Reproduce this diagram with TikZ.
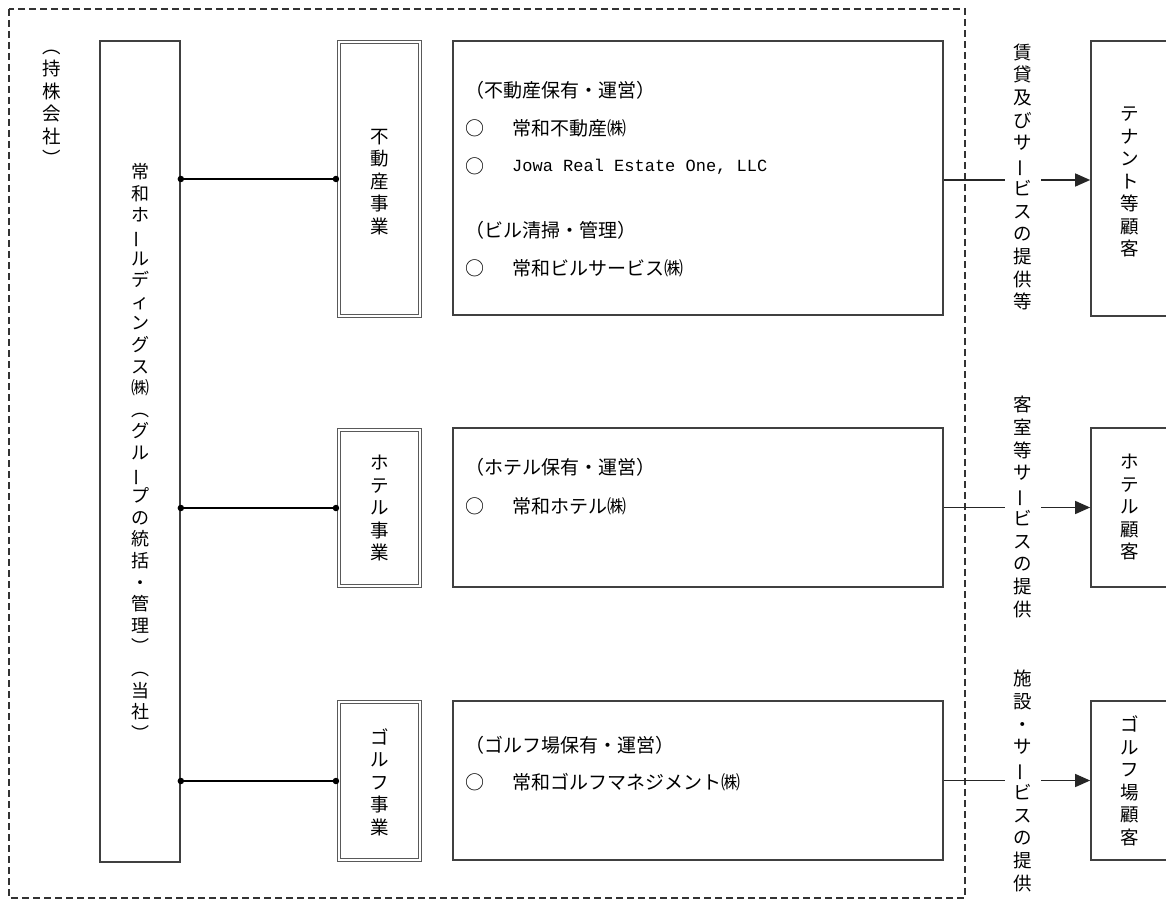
\documentclass[tikz,border=0pt]{standalone}
\usepackage{fontspec}
\setmainfont{Noto Sans CJK JP}
\newfontfamily\monofont{Liberation Mono}
\usetikzlibrary{arrows.meta}
\newcommand{\vbar}{\rotatebox[origin=c]{90}{ー}}
\tikzset{
  box/.style={draw=black!75, line width=1.7pt, inner sep=0pt},
  dbox/.style={draw=black!65, line width=1.1pt, double=white, double distance=2.4pt, inner sep=0pt},
  vtext/.style={align=center, font=\fontsize{18.5}{22.5}\selectfont, inner sep=0pt},
  htext/.style={anchor=west, font=\fontsize{19}{22}\selectfont, inner sep=0pt},
  monotext/.style={anchor=west, font=\monofont\fontsize{17}{22}\selectfont, inner sep=0pt},
  conn/.style={line width=2.2pt, black},
  arr/.style={line width=1.4pt, black!85, -{Triangle[length=15pt,width=13pt]}},
  enddot/.style={circle, fill=black, inner sep=0pt, minimum size=6.5pt},
  frame/.style={draw=black!80, line width=1.2pt, dash pattern=on 7pt off 4pt},
  label/.style={vtext, fill=white, inner xsep=9pt, inner ysep=0pt},
}
\begin{document}
\begin{tikzpicture}[x=1pt,y=-1pt]
\useasboundingbox (0,0) rectangle (1166,901);
\clip (0,0) rectangle (1166,901);
\fill[white] (0,0) rectangle (1166,901);

% dashed group frame
\draw[frame] (9,9) rectangle (965,898);

% holding company
\node[vtext] (hc) at (52,108) {︵\\持\\株\\会\\社\\︶};
\node[box, minimum width=80pt, minimum height=821pt] (hold) at (140,451.5) {};
\node[vtext, font=\fontsize{18}{21.6}\selectfont] (holdt) at (140,452) {常\\和\\ホ\\\vbar\\ル\\デ\\ィ\\ン\\グ\\ス\\㈱\\︵\\グ\\ル\\\vbar\\プ\\の\\統\\括\\・\\管\\理\\︶\\︵\\当\\社\\︶};

% business segments
\node[dbox, minimum width=81pt, minimum height=274pt] (b1) at (379.5,179) {};
\node[vtext] (b1t) at (380,182) {不\\動\\産\\事\\業};
\node[dbox, minimum width=81pt, minimum height=156pt] (b2) at (379.5,508) {};
\node[vtext] (b2t) at (380,508) {ホ\\テ\\ル\\事\\業};
\node[dbox, minimum width=81pt, minimum height=158pt] (b3) at (379.5,781) {};
\node[vtext] (b3t) at (380,782) {ゴ\\ル\\フ\\事\\業};

% connectors
\foreach \b in {b1,b2,b3}{
  \coordinate (s\b) at (hold.east |- \b.west);
  \coordinate (e\b) at ([xshift=-2.5pt]\b.west);
  \draw[conn] (s\b) -- (e\b);
  \node[enddot] at (s\b) {};
  \node[enddot] at (e\b) {};
}

% companies
\node[box, minimum width=490pt, minimum height=274pt] (c1) at (698,178) {};
\node[htext] (c1a) at (465,90) {（不動産保有・運営）};
\node[htext] (c1b) at (465,128) {○};
\node[htext] (c1bn) at (512,128) {常和不動産㈱};
\node[htext] (c1c) at (465,166) {○};
\node[monotext] (c1cn) at (512,167) {Jowa Real Estate One, LLC};
\node[htext] (c1d) at (465,230) {（ビル清掃・管理）};
\node[htext] (c1e) at (465,268) {○};
\node[htext] (c1en) at (512,268) {常和ビルサービス㈱};

\node[box, minimum width=490pt, minimum height=159pt] (c2) at (698,507.5) {};
\node[htext] (c2a) at (465,467) {（ホテル保有・運営）};
\node[htext] (c2b) at (465,506) {○};
\node[htext] (c2bn) at (512,506) {常和ホテル㈱};

\node[box, minimum width=490pt, minimum height=159pt] (c3) at (698,780.5) {};
\node[htext] (c3a) at (465,745) {（ゴルフ場保有・運営）};
\node[htext] (c3b) at (465,782) {○};
\node[htext] (c3bn) at (512,782) {常和ゴルフマネジメント㈱};

% customers
\node[box, minimum width=89pt, minimum height=275pt] (u1) at (1135.5,178.5) {};
\node[vtext] (u1t) at (1130,182) {テ\\ナ\\ン\\ト\\等\\顧\\客};
\node[box, minimum width=89pt, minimum height=159pt] (u2) at (1135.5,507.5) {};
\node[vtext] (u2t) at (1130,507) {ホ\\テ\\ル\\顧\\客};
\node[box, minimum width=89pt, minimum height=159pt] (u3) at (1135.5,780.5) {};
\node[vtext] (u3t) at (1130,781) {ゴ\\ル\\フ\\場\\顧\\客};

% service arrows
\coordinate (a1) at ([yshift=-2pt]c1.east);
\draw[arr] (a1) -- (u1.west |- a1);
\draw[arr] (c2.east) -- (u2.west |- c2.east);
\draw[arr] (c3.east) -- (u3.west |- c3.east);

\node[label, font=\fontsize{18.5}{22.7}\selectfont] (l1) at (1023,177) {賃\\貸\\及\\び\\サ\\\vbar\\ビ\\ス\\の\\提\\供\\等};
\node[label, font=\fontsize{18.5}{22.7}\selectfont] (l2) at (1023,507) {客\\室\\等\\サ\\\vbar\\ビ\\ス\\の\\提\\供};
\node[label, font=\fontsize{18.5}{22.7}\selectfont] (l3) at (1023,781) {施\\設\\・\\サ\\\vbar\\ビ\\ス\\の\\提\\供};
\end{tikzpicture}
\end{document}
